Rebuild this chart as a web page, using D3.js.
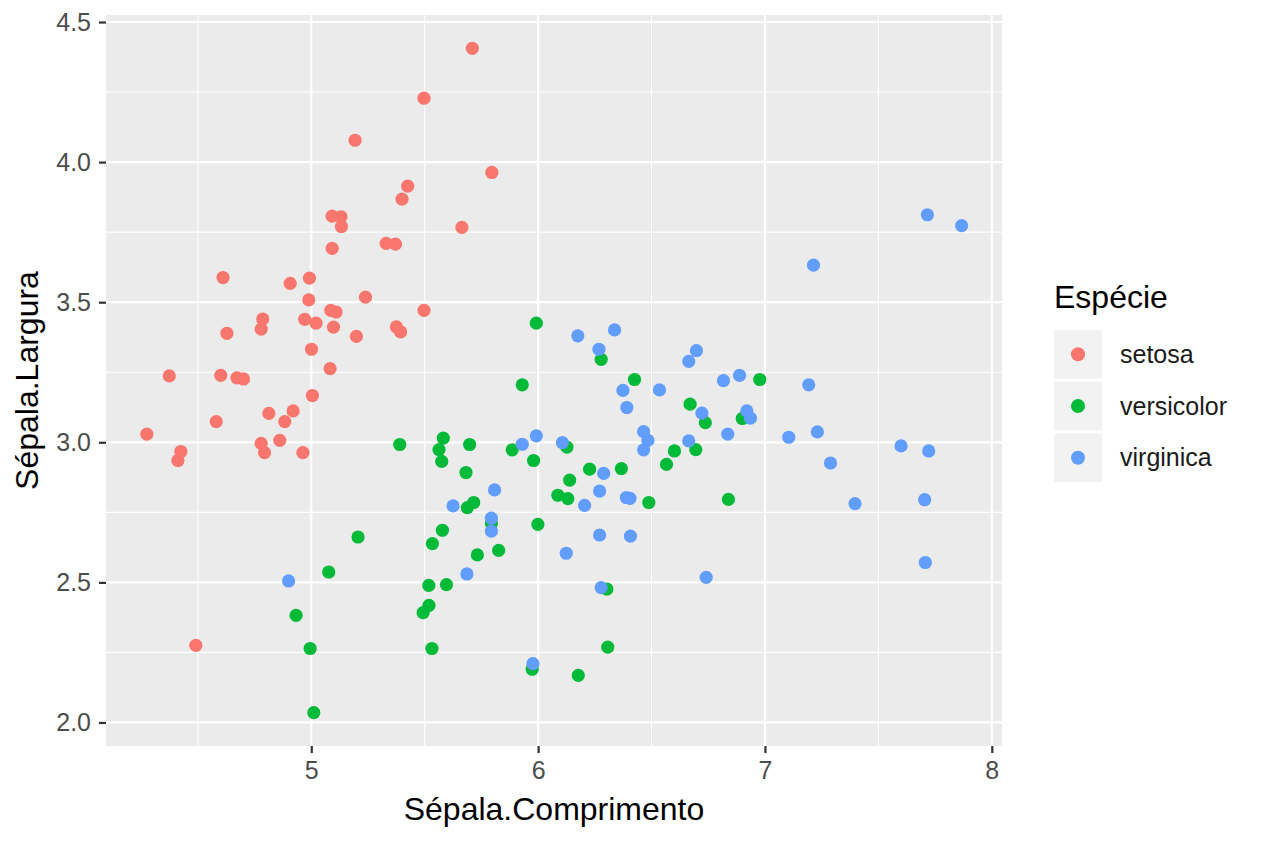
<!DOCTYPE html>
<html>
<head>
<meta charset="utf-8">
<script src="https://cdn.jsdelivr.net/npm/d3@7"></script>
<style>
  html, body { margin: 0; padding: 0; background: #fff; }
  svg { display: block; font-family: "Liberation Sans", Arial, Helvetica, sans-serif; }
</style>
</head>
<body>
<svg id="chart" width="1264" height="843"></svg>
<script>
const species = ['setosa', 'versicolor', 'virginica'];
const speciesColors = ['#F8766D', '#00BA38', '#619CFF'];

const setosa = [
  [4.275, 3.029], [4.374, 3.237], [4.412, 2.935], [4.425, 2.967], [4.491, 2.275],
  [4.581, 3.074], [4.601, 3.239], [4.611, 3.588], [4.628, 3.389], [4.672, 3.230],
  [4.701, 3.226], [4.786, 3.440], [4.779, 3.404], [4.779, 2.996], [4.794, 2.963],
  [4.813, 3.103], [4.861, 3.007], [4.883, 3.074], [4.907, 3.567], [4.920, 3.112],
  [4.963, 2.963], [4.971, 3.439], [4.989, 3.508], [4.992, 3.586], [5.001, 3.332],
  [5.005, 3.167], [5.021, 3.425], [5.083, 3.263], [5.086, 3.471], [5.098, 3.411],
  [5.092, 3.692], [5.092, 3.807], [5.109, 3.465], [5.131, 3.805], [5.133, 3.770],
  [5.193, 4.078], [5.199, 3.378], [5.239, 3.518], [5.330, 3.710], [5.371, 3.707],
  [5.375, 3.412], [5.394, 3.394], [5.400, 3.868], [5.425, 3.914], [5.497, 4.228],
  [5.497, 3.471], [5.664, 3.767], [5.710, 4.406], [5.796, 3.963]
];

const versicolor = [
  [5.992, 3.425], [6.278, 3.296], [5.930, 3.205], [6.425, 3.224], [6.670, 3.136],
  [5.390, 2.992], [5.582, 3.015], [5.563, 2.974], [5.575, 2.932], [5.698, 2.992],
  [5.886, 2.973], [5.980, 2.935], [6.127, 2.983], [5.682, 2.892], [6.695, 2.974],
  [6.601, 2.969], [6.566, 2.921], [6.227, 2.904], [6.367, 2.906], [6.139, 2.865],
  [6.087, 2.811], [6.131, 2.799], [6.488, 2.785], [5.716, 2.785], [5.688, 2.767],
  [5.578, 2.686], [5.534, 2.638], [5.794, 2.710], [5.732, 2.598], [5.826, 2.614],
  [5.999, 2.707], [5.518, 2.489], [5.596, 2.492], [5.519, 2.418], [5.493, 2.392],
  [5.532, 2.264], [6.303, 2.476], [6.307, 2.269], [5.974, 2.190], [6.177, 2.168],
  [5.206, 2.662], [5.077, 2.537], [4.933, 2.382], [4.995, 2.264], [5.011, 2.035],
  [6.977, 3.224], [6.737, 3.070], [6.900, 3.085], [6.839, 2.796]
];

const virginica = [
  [6.175, 3.380], [6.337, 3.401], [6.268, 3.332], [6.698, 3.327], [6.664, 3.289],
  [6.374, 3.185], [6.535, 3.187], [6.391, 3.124], [6.722, 3.104], [6.465, 3.038],
  [6.484, 3.007], [6.465, 2.973], [6.664, 3.005], [5.930, 2.993], [5.992, 3.023],
  [6.107, 2.999], [6.289, 2.889], [6.271, 2.826], [6.389, 2.803], [6.405, 2.800],
  [5.808, 2.830], [5.625, 2.773], [6.205, 2.775], [5.794, 2.729], [5.794, 2.683],
  [6.271, 2.669], [6.407, 2.665], [6.124, 2.604], [5.686, 2.530], [6.278, 2.481],
  [5.977, 2.210], [4.900, 2.505], [7.214, 3.632], [6.817, 3.220], [6.888, 3.239],
  [7.193, 3.205], [6.920, 3.112], [6.936, 3.086], [6.836, 3.029], [7.105, 3.018],
  [7.231, 3.037], [7.289, 2.926], [7.600, 2.987], [7.722, 2.969], [7.397, 2.781],
  [7.704, 2.795], [7.716, 3.812], [7.867, 3.773], [7.707, 2.571], [6.741, 2.518]
];

const xTicks = [5, 6, 7, 8];
const xMinor = [4.5, 5.5, 6.5, 7.5];
const yTicks = [2.0, 2.5, 3.0, 3.5, 4.0, 4.5];
const yMinor = [2.25, 2.75, 3.25, 3.75, 4.25];

const xTitle = 'Sépala.Comprimento';
const yTitle = 'Sépala.Largura';
const legendTitle = 'Espécie';

// Layout
const panel = { left: 106, right: 1002, top: 15, bottom: 746 };

const svg = d3.select('#chart');

const x = d3.scaleLinear().domain([4.095, 8.045]).range([panel.left, panel.right]);
const y = d3.scaleLinear().domain([1.916, 4.525]).range([panel.bottom, panel.top]);

// Panel background
svg.append('rect')
  .attr('x', panel.left)
  .attr('y', panel.top)
  .attr('width', panel.right - panel.left)
  .attr('height', panel.bottom - panel.top)
  .attr('fill', '#EBEBEB');

const grid = svg.append('g');

// Minor grid
grid.selectAll('line.xminor').data(xMinor).join('line')
  .attr('x1', d => x(d)).attr('x2', d => x(d))
  .attr('y1', panel.top).attr('y2', panel.bottom)
  .attr('stroke', '#fff').attr('stroke-width', 1.1);

grid.selectAll('line.yminor').data(yMinor).join('line')
  .attr('y1', d => y(d)).attr('y2', d => y(d))
  .attr('x1', panel.left).attr('x2', panel.right)
  .attr('stroke', '#fff').attr('stroke-width', 1.1);

// Major grid
grid.selectAll('line.xmajor').data(xTicks).join('line')
  .attr('x1', d => x(d)).attr('x2', d => x(d))
  .attr('y1', panel.top).attr('y2', panel.bottom)
  .attr('stroke', '#fff').attr('stroke-width', 2.2);

grid.selectAll('line.ymajor').data(yTicks).join('line')
  .attr('y1', d => y(d)).attr('y2', d => y(d))
  .attr('x1', panel.left).attr('x2', panel.right)
  .attr('stroke', '#fff').attr('stroke-width', 2.2);

// Axes
const xAxis = d3.axisBottom(x).tickValues(xTicks).tickSize(7).tickPadding(8)
  .tickFormat(d3.format('d'));
const yAxis = d3.axisLeft(y).tickValues(yTicks).tickSize(7).tickPadding(8)
  .tickFormat(d3.format('.1f'));

const gx = svg.append('g')
  .attr('transform', `translate(0, ${panel.bottom})`)
  .call(xAxis);
const gy = svg.append('g')
  .attr('transform', `translate(${panel.left}, 0)`)
  .call(yAxis);

[gx, gy].forEach(g => {
  g.select('.domain').remove();
  g.selectAll('.tick line').attr('stroke', '#333333').attr('stroke-width', 2.2);
  g.selectAll('.tick text')
    .attr('fill', '#4D4D4D')
    .style('font-size', '25px')
    .style('font-family', '"Liberation Sans", Arial, sans-serif');
});

// Points
const groups = [setosa, versicolor, virginica];
groups.forEach((pts, i) => {
  svg.append('g').selectAll('circle').data(pts).join('circle')
    .attr('cx', d => x(d[0]))
    .attr('cy', d => y(d[1]))
    .attr('r', 6.6)
    .attr('fill', speciesColors[i]);
});

// Axis titles
svg.append('text')
  .attr('x', (panel.left + panel.right) / 2)
  .attr('y', 820)
  .attr('text-anchor', 'middle')
  .style('font-size', '32px')
  .attr('fill', '#000')
  .text(xTitle);

svg.append('text')
  .attr('transform', `translate(38, ${(panel.top + panel.bottom) / 2}) rotate(-90)`)
  .attr('text-anchor', 'middle')
  .style('font-size', '32px')
  .attr('fill', '#000')
  .text(yTitle);

// Legend
const legend = svg.append('g').attr('transform', 'translate(1054, 0)');

legend.append('text')
  .attr('x', 0)
  .attr('y', 308)
  .style('font-size', '32px')
  .attr('fill', '#000')
  .text(legendTitle);

const keyY = d3.scaleBand().domain(species).range([330, 482]).paddingInner(0.06);

const keys = legend.selectAll('g.key').data(species).join('g')
  .attr('transform', d => `translate(0, ${keyY(d)})`);

keys.append('rect')
  .attr('width', 48)
  .attr('height', keyY.bandwidth())
  .attr('fill', '#F2F2F2');

keys.append('circle')
  .attr('cx', 24)
  .attr('cy', keyY.bandwidth() / 2)
  .attr('r', 7)
  .attr('fill', (d, i) => speciesColors[i]);

keys.append('text')
  .attr('x', 66)
  .attr('y', keyY.bandwidth() / 2)
  .attr('dy', '0.35em')
  .style('font-size', '25px')
  .attr('fill', '#1A1A1A')
  .text(d => d);
</script>
</body>
</html>
